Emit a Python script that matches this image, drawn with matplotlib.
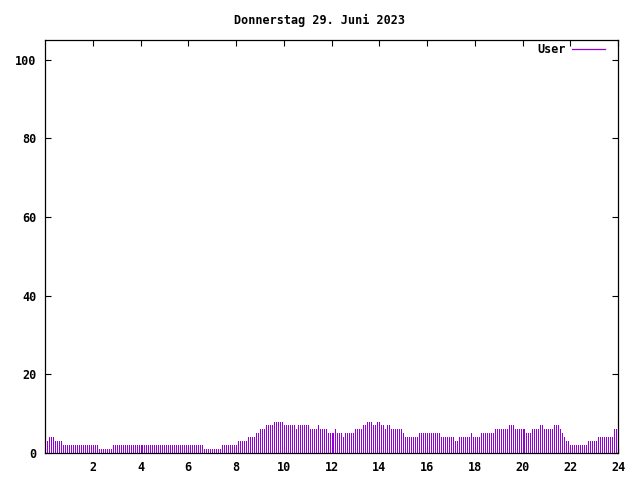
import matplotlib
matplotlib.use("Agg")
import matplotlib.pyplot as plt

TITLE = "Donnerstag 29. Juni 2023"
SERIES_NAME = "User"

# user count per 5-minute slot, stored as (value, number of slots) runs
USER_RUNS = [
    (3, 1), (4, 3), (3, 4), (2, 18), (1, 7), (2, 46), (1, 9), (2, 8),
    (3, 5), (4, 4), (5, 2), (6, 3), (7, 4), (8, 5), (7, 6), (6, 1),
    (7, 6), (6, 4), (7, 1), (6, 4), (5, 4), (6, 1), (5, 3), (4, 1),
    (5, 5), (6, 4), (7, 2), (8, 3), (7, 2), (8, 2), (7, 2), (6, 1),
    (7, 2), (6, 6), (5, 1), (4, 7), (5, 11),
    (4, 7), (3, 2), (4, 6), (5, 1), (4, 4), (5, 7), (6, 7), (7, 3),
    (6, 6), (5, 3), (6, 4), (7, 2), (6, 5), (7, 3), (6, 1), (5, 1),
    (4, 1), (3, 2), (2, 9), (3, 5), (4, 8), (6, 3),
]

X_TICKS = [2, 4, 6, 8, 10, 12, 14, 16, 18, 20, 22, 24]
Y_TICKS = [0, 20, 40, 60, 80, 100]

COLOR = "#9400d3"
FONT = dict(family="DejaVu Sans Mono", weight="bold", size=8.5)


def main() -> None:
    users = [v for v, n in USER_RUNS for _ in range(n)]
    hours = [(i + 1) * 5 / 60 for i in range(len(users))]

    fig = plt.figure(figsize=(6.4, 4.8), dpi=100)
    ax = fig.add_axes([45 / 640, 1 - 453 / 480, 573 / 640, 413 / 480])

    ax.vlines(hours, 0, users, colors=COLOR, linewidth=0.5, antialiased=False)
    ax.plot([], [], color=COLOR, linewidth=0.9, label=SERIES_NAME)

    ax.set_xlim(0, 24)
    ax.set_ylim(0, 105)
    ax.set_xticks(X_TICKS)
    ax.set_yticks(Y_TICKS)
    ax.set_xticklabels([str(t) for t in X_TICKS], fontdict=FONT)
    ax.set_yticklabels([str(t) for t in Y_TICKS], fontdict=FONT)
    ax.tick_params(direction="in", length=4, width=0.8, top=True, right=True, pad=6)
    for spine in ax.spines.values():
        spine.set_linewidth(0.9)

    ax.legend(loc="upper right", frameon=False, markerfirst=False,
              handlelength=2.8, handletextpad=0.45, borderaxespad=0.0,
              bbox_to_anchor=(0.985, 1.003),
              prop=dict(family="DejaVu Sans Mono", weight="bold", size=8.5))

    fig.text(0.5, 1 - 20 / 480, TITLE, ha="center", va="center", **FONT)

    fig.savefig("out.png", dpi=100)
    plt.close(fig)


if __name__ == "__main__":
    main()
